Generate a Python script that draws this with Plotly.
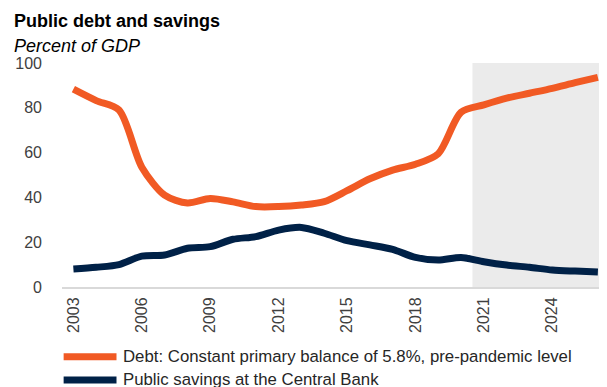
import plotly.graph_objects as go

years = list(range(2003, 2027))
debt = [88.3, 83.2, 79.0, 53.5, 41.0, 37.5, 39.5, 38.0, 35.9, 35.9, 36.6, 38.1,
        43.0, 48.3, 52.2, 54.8, 59.5, 78.0, 81.3, 84.3, 86.5, 88.7, 91.2, 93.6]
savings = [8.0, 8.8, 10.0, 13.8, 14.3, 17.3, 18.0, 21.3, 22.5, 25.4, 26.6, 24.0,
           20.7, 18.8, 16.8, 13.2, 12.0, 13.2, 11.3, 9.8, 8.8, 7.6, 7.1, 6.7]
tick_years = [2003, 2006, 2009, 2012, 2015, 2018, 2021, 2024]
y_ticks = [0, 20, 40, 60, 80, 100]
shade_start = 2020.5
shade_end = 2026.5

name_debt = "Debt: Constant primary balance of 5.8%, pre-pandemic level"
name_sav = "Public savings at the Central Bank"
c_debt = "#f15a24"
c_sav = "#002147"

FONT = "Liberation Sans"

fig = go.Figure()
fig.add_shape(type="rect", xref="x", yref="y", x0=shade_start, x1=shade_end,
              y0=0, y1=100, fillcolor="#ebebeb", line_width=0, layer="below")
fig.add_trace(go.Scatter(x=years, y=debt, mode="lines", name=name_debt,
                         line=dict(color=c_debt, width=7, shape="spline", smoothing=0.8)))
fig.add_trace(go.Scatter(x=years, y=savings, mode="lines", name=name_sav,
                         line=dict(color=c_sav, width=7, shape="spline", smoothing=0.8)))

# manual legend (below the plot)
legend_rows = [(name_debt, c_debt, -0.311), (name_sav, c_sav, -0.415)]
for name, col, yy in legend_rows:
    fig.add_shape(type="line", xref="paper", yref="paper", x0=0.003, x1=0.100,
                  y0=yy, y1=yy, line=dict(color=col, width=7))
    fig.add_annotation(text=name, xref="paper", yref="paper", x=0.108, y=yy,
                       xanchor="left", yanchor="middle", showarrow=False,
                       font=dict(family=FONT, size=16.8, color="#262626"))

fig.update_layout(
    width=607, height=387,
    margin=dict(l=54, r=8, t=55, b=108, autoexpand=False),
    paper_bgcolor="white", plot_bgcolor="white",
    font=dict(family=FONT, size=16, color="#404040"),
    showlegend=False,
    xaxis=dict(range=[2002.5, 2026.4], tickmode="array", tickvals=tick_years,
               ticktext=[str(t) for t in tick_years], tickangle=-90,
               showgrid=False, showline=True, linecolor="#d9d9d9", linewidth=2,
               ticks="", zeroline=False, automargin=False, ticklabelstandoff=2,
               tickfont=dict(size=16, color="#404040")),
    yaxis=dict(range=[0, 100], tickmode="array", tickvals=y_ticks,
               showgrid=False, showline=False, zeroline=False, ticks="",
               automargin=False, ticklabelstandoff=19,
               tickfont=dict(size=16, color="#404040")),
)
fig.add_annotation(text="<b>Public debt and savings</b>", xref="paper", yref="paper",
                   x=-0.091, y=1.1875, xanchor="left", yanchor="middle",
                   showarrow=False, font=dict(family=FONT, size=18, color="#000000"))
fig.add_annotation(text="<i>Percent of GDP</i>", xref="paper", yref="paper",
                   x=-0.091, y=1.076, xanchor="left", yanchor="middle",
                   showarrow=False, font=dict(family=FONT, size=18, color="#000000"))

fig.write_html("out.html")
